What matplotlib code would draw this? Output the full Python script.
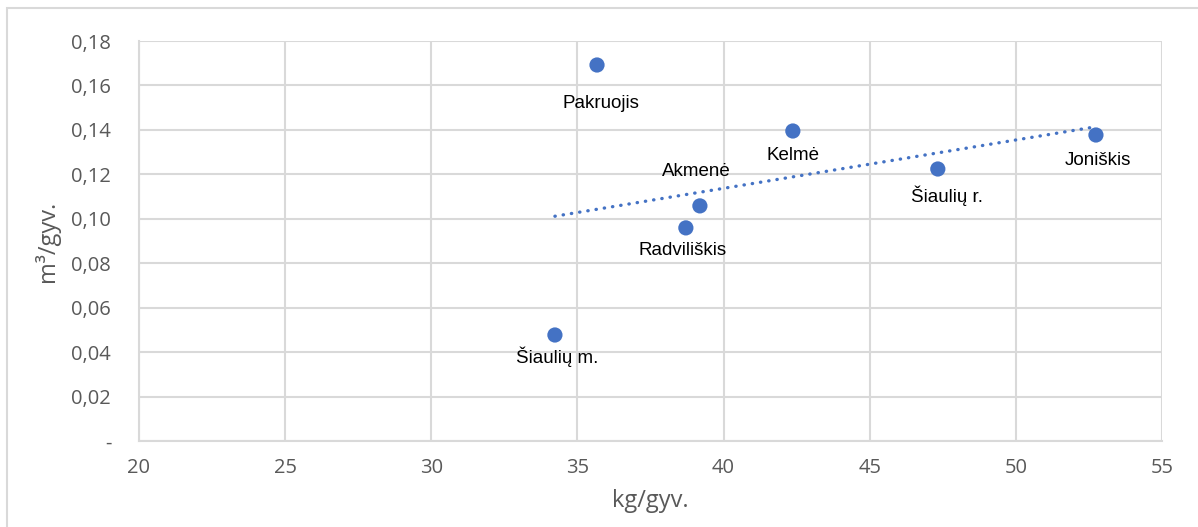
import numpy as np
import matplotlib.pyplot as plt
from matplotlib.patches import Rectangle
from matplotlib.ticker import FuncFormatter

names = ['Pakruojis', 'Kelmė', 'Joniškis', 'Šiaulių r.', 'Akmenė', 'Radviliškis', 'Šiaulių m.']
kg = [35.67, 42.37, 52.74, 47.33, 39.19, 38.71, 34.23]
m3 = [0.1692, 0.1395, 0.1377, 0.1224, 0.1058, 0.0959, 0.0477]
# label offsets in pixels (dx, dy)
offsets = [(4, -38), (0, -24), (2, -25), (9, -27), (-4, 34), (-3, -23), (2, -22)]

color = '#4472C4'
grey = '#595959'

fig = plt.figure(figsize=(11.98, 5.27), dpi=100)
fig.patches.append(Rectangle((7 / 1198, -0.01), 1.02, (527 - 8) / 527 + 0.01,
                             transform=fig.transFigure, fill=False,
                             edgecolor='#D9D9D9', lw=1.5))
ax = fig.add_axes([139 / 1198, 86 / 527, 1023 / 1198, 400 / 527])

ax.scatter(kg, m3, s=120, color=color, zorder=3, edgecolors='none')

k, b = np.polyfit(kg, m3, 1)
xt = np.array([min(kg), max(kg)])
ax.plot(xt, k * xt + b, color=color, lw=2.4, linestyle=(0, (0.1, 2.4)),
        dash_capstyle='round', zorder=2)

for n, x, y, (dx, dy) in zip(names, kg, m3, offsets):
    ax.annotate(n, (x, y), xytext=(dx * 0.72, dy * 0.72), textcoords='offset points',
                ha='center', va='center', fontsize=13.5, family='Liberation Sans', color='black')

ax.set_xlim(20, 55)
ax.set_ylim(0, 0.18)
ax.set_xticks(np.arange(20, 56, 5))
ax.set_yticks(np.arange(0, 0.181, 0.02))
ax.yaxis.set_major_formatter(FuncFormatter(
    lambda v, p: '-' if abs(v) < 1e-9 else f'{v:.2f}'.replace('.', ',')))
ax.grid(True, color='#D9D9D9', lw=1.5)
ax.set_axisbelow(True)
for s in ['top', 'right']:
    ax.spines[s].set_visible(False)
for s in ['left', 'bottom']:
    ax.spines[s].set_color('#D9D9D9')
    ax.spines[s].set_linewidth(1.5)
ax.tick_params(length=0, labelsize=14.5, labelcolor=grey)
ax.tick_params(axis='y', pad=20)
ax.tick_params(axis='x', pad=12)
for lbl in ax.get_xticklabels() + ax.get_yticklabels():
    lbl.set_family('Open Sans')

ax.set_xlabel('kg/gyv.', fontsize=17, color=grey, family='Open Sans', labelpad=8)
ax.set_ylabel('m³/gyv.', fontsize=17, color=grey, family='Open Sans', labelpad=8)

fig.savefig('out.png', dpi=100)
